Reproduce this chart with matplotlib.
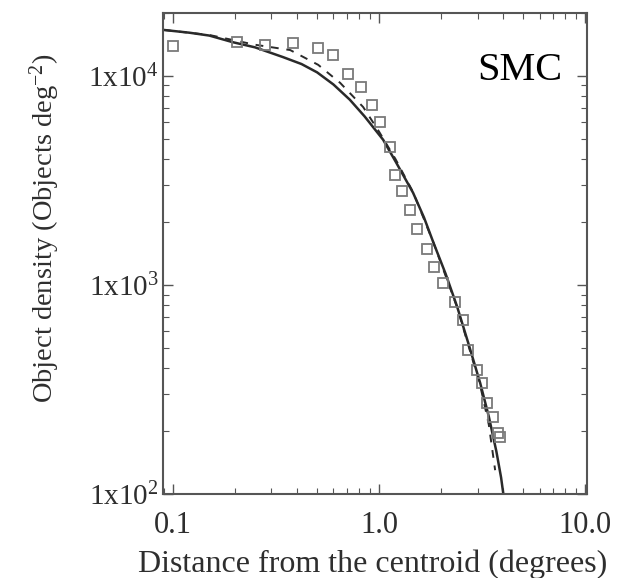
import matplotlib
matplotlib.use("Agg")
import matplotlib.pyplot as plt
from matplotlib.ticker import FixedLocator, FixedFormatter, LogLocator, NullFormatter

plt.rcParams['font.family'] = ['Liberation Serif', 'DejaVu Serif']
plt.rcParams['mathtext.fontset'] = 'custom'
plt.rcParams['mathtext.rm'] = 'Liberation Serif'
plt.rcParams['mathtext.it'] = 'Liberation Serif'
plt.rcParams['mathtext.bf'] = 'Liberation Serif:bold'

# Observed object density (squares)
obs_x = [0.10, 0.205, 0.28, 0.383, 0.506, 0.598, 0.707, 0.818, 0.925, 1.01, 1.13,
         1.196, 1.293, 1.414, 1.53, 1.71, 1.85, 2.04, 2.34, 2.56, 2.70, 2.99,
         3.16, 3.34, 3.58, 3.78, 3.86]
obs_y = [13900, 14500, 14100, 14400, 13600, 12600, 10200, 8860, 7260, 6020, 4570,
         3360, 2820, 2290, 1850, 1490, 1220, 1020, 830, 680, 489, 392,
         340, 272, 233, 196, 187]

# Fitted profile (solid)
fit_x = [0.09, 0.12, 0.15, 0.195, 0.25, 0.342, 0.42, 0.5, 0.6, 0.72, 0.85, 1.045,
         1.2, 1.46, 1.65, 1.83, 2.1, 2.39, 2.7, 3.09, 3.4, 3.7, 3.9, 4.0]
fit_y = [16600, 16100, 15600, 14500, 13700, 12300, 11400, 10400, 9100, 7700, 6400, 4950,
         3900, 2760, 2100, 1600, 1130, 785, 530, 339, 235, 160, 120, 100]

# Second profile (dashed)
alt_x = [0.09, 0.15, 0.25, 0.37, 0.506, 0.647, 0.836, 1.0, 1.2, 1.46, 1.83, 2.39,
         3.09, 3.4, 3.65]
alt_y = [16600, 15700, 14100, 13300, 11300, 9260, 7100, 5400, 4000, 2780, 1600, 780,
         330, 215, 130]

xticks = [0.1, 1.0, 10.0]
xticklabels = ['0.1', '1.0', '10.0']
yticks = [1e2, 1e3, 1e4]
yticklabels = [r'1x10$^{2}$', r'1x10$^{3}$', r'1x10$^{4}$']

fig = plt.figure(figsize=(6.22, 5.78), dpi=100)
ax = fig.add_axes([0.262, 0.1453, 0.682, 0.8322])

ink = '#2a2a2a'
txt = '#2e2e2e'
ax.plot(fit_x, fit_y, color=ink, lw=1.8, solid_capstyle='round')
ax.plot(alt_x, alt_y, color=ink, lw=1.4, ls=(0, (4, 4)))
ax.plot(obs_x, obs_y, ls='none', marker='s', ms=6.5, mfc='none', mec='#7a7a7a', mew=1.3)

ax.set_xscale('log')
ax.set_yscale('log')
ax.set_xlim(0.0894, 10.2)
ax.set_ylim(100, 20000)

ax.xaxis.set_major_locator(FixedLocator(xticks))
ax.xaxis.set_major_formatter(FixedFormatter(xticklabels))
ax.yaxis.set_major_locator(FixedLocator(yticks))
ax.yaxis.set_major_formatter(FixedFormatter(yticklabels))
ax.xaxis.set_minor_locator(LogLocator(base=10, subs=range(2, 10)))
ax.yaxis.set_minor_locator(LogLocator(base=10, subs=range(2, 10)))
ax.xaxis.set_minor_formatter(NullFormatter())
ax.yaxis.set_minor_formatter(NullFormatter())

ax.tick_params(which='both', direction='in', top=True, right=True, color='#555555')
ax.tick_params(which='major', length=7, width=1.0)
ax.tick_params(which='minor', length=4, width=0.8)
ax.tick_params(axis='x', which='major', labelsize=22, labelcolor=txt, pad=12)
ax.tick_params(axis='y', which='major', labelsize=21, labelcolor=txt, pad=3)
for s in ax.spines.values():
    s.set_color('#555555')
    s.set_linewidth(1.5)

ax.set_xlabel('Distance from the centroid (degrees)', fontsize=23, color=txt)
ax.xaxis.set_label_coords(0.495, -0.115)
ax.set_ylabel(r'Object density (Objects deg$^{-2}$)', fontsize=20.5, color=txt)
ax.yaxis.set_label_coords(-0.238, 0.553)

ax.text(0.842, 0.88, 'SMC', transform=ax.transAxes, fontsize=29, ha='center', va='center', color='black')

fig.savefig('out.png', dpi=100)
